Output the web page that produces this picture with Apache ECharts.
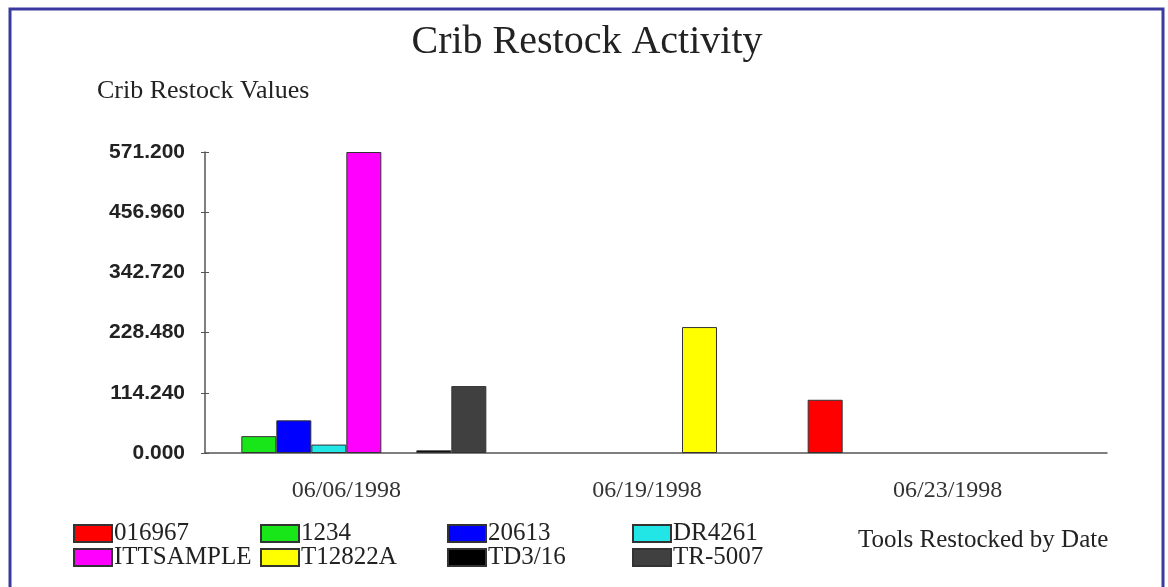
<!DOCTYPE html>
<html>
<head>
<meta charset="utf-8">
<script src="https://cdn.jsdelivr.net/npm/echarts@6/dist/echarts.min.js"></script>
<style>
html,body{margin:0;padding:0;background:#fff;}
#chart{width:1168px;height:587px;}
</style>
</head>
<body>
<div id="chart"></div>
<script>
const categories = ['06/06/1998', '06/19/1998', '06/23/1998'];
const seriesNames = ['016967', '1234', '20613', 'DR4261', 'ITTSAMPLE', 'T12822A', 'TD3/16', 'TR-5007'];
const v016967   = [null, null, 101];
const v1234     = [32, null, null];
const v20613    = [62, null, null];
const vDR4261   = [16, null, null];
const vITTSAMPLE= [571.2, null, null];
const vT12822A  = [null, 239, null];
const vTD3_16   = [5, null, null];
const vTR5007   = [127, null, null];
const yTickLabels = ['0.000', '114.240', '228.480', '342.720', '456.960', '571.200'];
const yMax = 571.2;
const yStep = 114.24;

const seriesValues = [v016967, v1234, v20613, vDR4261, vITTSAMPLE, vT12822A, vTD3_16, vTR5007];
const colors = ['#ff0000', '#19e619', '#0000ff', '#22e6e6', '#ff00ff', '#ffff00', '#000000', '#404040'];

const serif = '"Liberation Serif", "Times New Roman", serif';
const sans = '"Liberation Sans", Arial, sans-serif';

const chart = echarts.init(document.getElementById('chart'));

const series = seriesNames.map((n, i) => ({
  name: n,
  type: 'bar',
  xAxisIndex: 1,
  yAxisIndex: 1,
  data: seriesValues[i],
  barWidth: 35,
  barGap: '0%',
  itemStyle: { color: colors[i], borderColor: '#333', borderWidth: 1 },
  emphasis: { disabled: true }
}));

const legendCols = [[0, 4], [1, 5], [2, 6], [3, 7]];
const legendLefts = [73, 260, 447, 632];
const legends = legendCols.map((col, k) => ({
  orient: 'vertical',
  left: legendLefts[k],
  top: 521,
  padding: 0,
  itemWidth: 38,
  itemHeight: 17,
  itemGap: -1,
  icon: 'rect',
  selectedMode: false,
  data: col.map(i => seriesNames[i]),
  textStyle: { fontFamily: serif, fontSize: 25, color: '#222', padding: [0, 0, 0, -3] }
}));

chart.setOption({
  animation: false,
  backgroundColor: '#ffffff',
  grid: [
    { left: 205, right: 61, top: 152, bottom: 134 },
    { left: 196, right: 70, top: 152, bottom: 134 }
  ],
  xAxis: [
    { type: 'category', gridIndex: 0, data: categories,
      axisLine: { lineStyle: { color: '#555', width: 1.5 } },
      axisTick: { show: false }, axisLabel: { show: false } },
    { type: 'category', gridIndex: 1, data: categories,
      axisLine: { show: false }, axisTick: { show: false },
      axisLabel: { margin: 26, fontFamily: serif, fontSize: 24, lineHeight: 24, color: '#333' } }
  ],
  yAxis: [
    { type: 'value', gridIndex: 0, position: 'left', min: 0, max: yMax, interval: yStep,
      axisLine: { show: true, lineStyle: { color: '#555', width: 1.5 } },
      axisTick: { show: true, length: 4, inside: false, lineStyle: { color: '#555' } },
      splitLine: { show: false },
      axisLabel: { margin: 20, fontFamily: sans, fontWeight: 'bold', fontSize: 21, color: '#222',
        formatter: (v) => yTickLabels[Math.round(v / yStep)] } },
    { type: 'value', gridIndex: 1, min: 0, max: yMax, interval: yStep, show: false },
    { type: 'value', gridIndex: 0, position: 'left', offset: 0, min: 0, max: yMax, interval: yStep,
      axisLine: { show: false }, splitLine: { show: false }, axisLabel: { show: false },
      axisTick: { show: true, length: 4, inside: true, lineStyle: { color: '#555' } } }
  ],
  legend: legends,
  series: series,
  graphic: [
    { type: 'rect', shape: { x: 10, y: 9, width: 1153, height: 700 },
      style: { fill: 'none', stroke: '#3a3a9e', lineWidth: 3 }, silent: true, z: 100 },
    { type: 'text', x: 587, y: 42,
      style: { text: 'Crib Restock Activity', font: '40px ' + serif, fill: '#222', align: 'center', verticalAlign: 'middle' } },
    { type: 'text', x: 97, y: 91,
      style: { text: 'Crib Restock Values', font: '26px ' + serif, fill: '#222', align: 'left', verticalAlign: 'middle' } },
    { type: 'text', x: 858, y: 540,
      style: { text: 'Tools Restocked by Date', font: '25px ' + serif, fill: '#222', align: 'left', verticalAlign: 'middle' } }
  ]
});
</script>
</body>
</html>
